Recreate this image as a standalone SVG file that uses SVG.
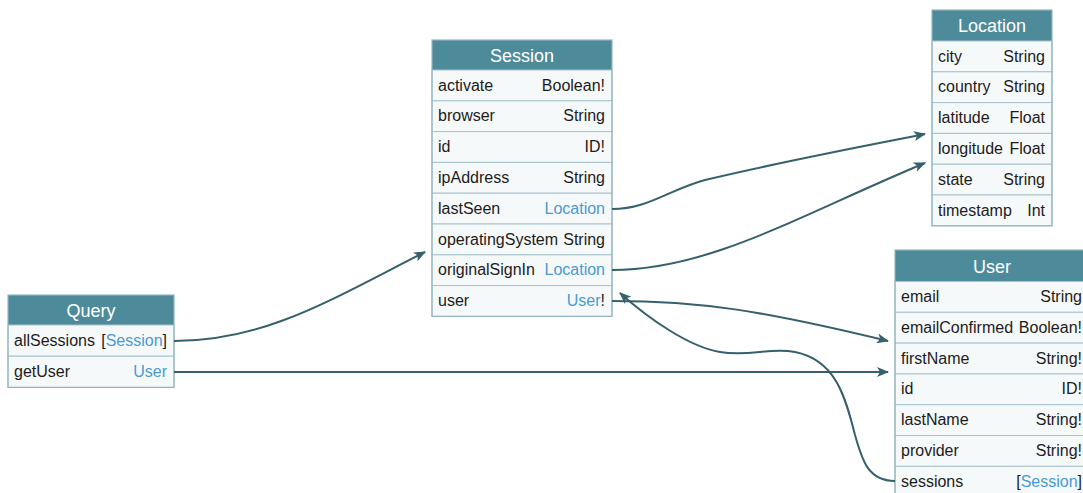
<svg xmlns="http://www.w3.org/2000/svg" width="1083" height="493" viewBox="0 0 1083 493">
  <style>
    text { font-family: "Liberation Sans", Arial, Helvetica, sans-serif; }
    .hdr { fill: #4e8b9a; }
    .frame { fill: none; stroke: #93b5c2; stroke-width: 1.2; }
    .row { fill: #f6f9fa; stroke: #a7c3cd; stroke-width: 1; }
    .title { fill: #ffffff; font-size: 18px; text-anchor: middle; }
    .fname { fill: #1c1c1c; font-size: 16px; }
    .ftype { fill: #1c1c1c; font-size: 16px; text-anchor: end; }
    .link { fill: #4a9ad3; }
    .edge { fill: none; stroke: #36606b; stroke-width: 2; marker-end: url(#arrow); }
  </style>
  <defs>
    <marker id="arrow" viewBox="0 0 12 10" refX="11" refY="5" markerWidth="12" markerHeight="10" markerUnits="userSpaceOnUse" orient="auto">
      <path d="M0,0 L12,5 L0,10 L3,5 Z" fill="#36606b"/>
    </marker>
  </defs>
  <rect width="1083" height="493" fill="#ffffff"/>

  <!-- Query -->
  <g id="query">
    <rect class="hdr" x="8" y="295" width="166" height="30"/>
    <text class="title" x="91" y="317">Query</text>
    <rect class="row" x="8" y="325" width="166" height="31.2"/>
    <text class="fname" x="14" y="346">allSessions</text>
    <text class="ftype" x="167" y="346">[<tspan class="link">Session</tspan>]</text>
    <rect class="row" x="8" y="356.2" width="166" height="31.2"/>
    <text class="fname" x="14" y="377">getUser</text>
    <text class="ftype link" x="167" y="377">User</text>
    <rect class="frame" x="8" y="295" width="166" height="92.4"/>
  </g>

  <!-- Session -->
  <g id="session">
    <rect class="hdr" x="432" y="40" width="180" height="30"/>
    <text class="title" x="522" y="61.5">Session</text>
    <rect class="row" x="432" y="70" width="180" height="30.8"/>
    <text class="fname" x="438" y="90.5">activate</text>
    <text class="ftype" x="605" y="90.5">Boolean!</text>
    <rect class="row" x="432" y="100.8" width="180" height="30.8"/>
    <text class="fname" x="438" y="121.3">browser</text>
    <text class="ftype" x="605" y="121.3">String</text>
    <rect class="row" x="432" y="131.6" width="180" height="30.8"/>
    <text class="fname" x="438" y="152.1">id</text>
    <text class="ftype" x="605" y="152.1">ID!</text>
    <rect class="row" x="432" y="162.4" width="180" height="30.8"/>
    <text class="fname" x="438" y="182.9">ipAddress</text>
    <text class="ftype" x="605" y="182.9">String</text>
    <rect class="row" x="432" y="193.2" width="180" height="30.8"/>
    <text class="fname" x="438" y="213.7">lastSeen</text>
    <text class="ftype link" x="605" y="213.7">Location</text>
    <rect class="row" x="432" y="224" width="180" height="30.8"/>
    <text class="fname" x="438" y="244.5">operatingSystem</text>
    <text class="ftype" x="605" y="244.5">String</text>
    <rect class="row" x="432" y="254.8" width="180" height="30.8"/>
    <text class="fname" x="438" y="275.3">originalSignIn</text>
    <text class="ftype link" x="605" y="275.3">Location</text>
    <rect class="row" x="432" y="285.6" width="180" height="30.8"/>
    <text class="fname" x="438" y="306.1">user</text>
    <text class="ftype" x="605" y="306.1"><tspan class="link">User</tspan>!</text>
    <rect class="frame" x="432" y="40" width="180" height="276.4"/>
  </g>

  <!-- Location -->
  <g id="location">
    <rect class="hdr" x="932" y="10" width="120" height="31"/>
    <text class="title" x="992" y="32">Location</text>
    <rect class="row" x="932" y="41" width="120" height="30.8"/>
    <text class="fname" x="938" y="61.5">city</text>
    <text class="ftype" x="1045" y="61.5">String</text>
    <rect class="row" x="932" y="71.8" width="120" height="30.8"/>
    <text class="fname" x="938" y="92.3">country</text>
    <text class="ftype" x="1045" y="92.3">String</text>
    <rect class="row" x="932" y="102.6" width="120" height="30.8"/>
    <text class="fname" x="938" y="123.1">latitude</text>
    <text class="ftype" x="1045" y="123.1">Float</text>
    <rect class="row" x="932" y="133.4" width="120" height="30.8"/>
    <text class="fname" x="938" y="153.9">longitude</text>
    <text class="ftype" x="1045" y="153.9">Float</text>
    <rect class="row" x="932" y="164.2" width="120" height="30.8"/>
    <text class="fname" x="938" y="184.7">state</text>
    <text class="ftype" x="1045" y="184.7">String</text>
    <rect class="row" x="932" y="195" width="120" height="30.8"/>
    <text class="fname" x="938" y="215.5">timestamp</text>
    <text class="ftype" x="1045" y="215.5">Int</text>
    <rect class="frame" x="932" y="10" width="120" height="215.8"/>
  </g>

  <!-- User -->
  <g id="user">
    <rect class="hdr" x="895" y="250" width="194" height="31.5"/>
    <text class="title" x="992" y="272.5">User</text>
    <rect class="row" x="895" y="281.5" width="194" height="30.8"/>
    <text class="fname" x="901" y="302">email</text>
    <text class="ftype" x="1082" y="302">String</text>
    <rect class="row" x="895" y="312.3" width="194" height="30.8"/>
    <text class="fname" x="901" y="332.8">emailConfirmed</text>
    <text class="ftype" x="1082" y="332.8">Boolean!</text>
    <rect class="row" x="895" y="343.1" width="194" height="30.8"/>
    <text class="fname" x="901" y="363.6">firstName</text>
    <text class="ftype" x="1082" y="363.6">String!</text>
    <rect class="row" x="895" y="373.9" width="194" height="30.8"/>
    <text class="fname" x="901" y="394.4">id</text>
    <text class="ftype" x="1082" y="394.4">ID!</text>
    <rect class="row" x="895" y="404.7" width="194" height="30.8"/>
    <text class="fname" x="901" y="425.2">lastName</text>
    <text class="ftype" x="1082" y="425.2">String!</text>
    <rect class="row" x="895" y="435.5" width="194" height="30.8"/>
    <text class="fname" x="901" y="456">provider</text>
    <text class="ftype" x="1082" y="456">String!</text>
    <rect class="row" x="895" y="466.3" width="194" height="30.8"/>
    <text class="fname" x="901" y="486.8">sessions</text>
    <text class="ftype" x="1082" y="486.8">[<tspan class="link">Session</tspan>]</text>
    <rect class="frame" x="895" y="250" width="194" height="247.1"/>
  </g>

  <!-- Connectors -->
  <g id="connectors">
    <path class="edge" d="M174,341 C265,341 330,300 425,252"/>
    <path class="edge" d="M174,372 L888,372"/>
    <path class="edge" d="M612,209 C648,209 668,190 705,180 C780,162 860,147 925,134"/>
    <path class="edge" d="M612,270 C710,270 800,215 925,163"/>
    <path class="edge" d="M612,301 C700,301 760,310 888,341"/>
    <path class="edge" d="M895,481 C868,481 862,460 855,435 C845,395 835,360 795,352 C770,347 750,357 720,352 C690,347 650,320 620,293"/>
  </g>
</svg>
